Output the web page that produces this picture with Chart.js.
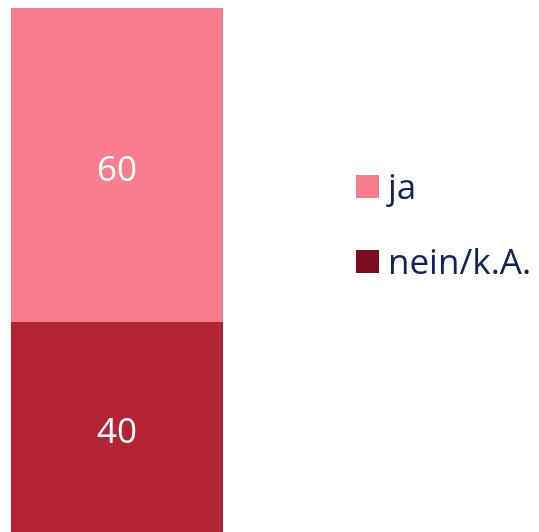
<!DOCTYPE html>
<html>
<head>
<meta charset="utf-8">
<script src="https://cdn.jsdelivr.net/npm/chart.js@4"></script>
<style>
  html, body { margin: 0; padding: 0; background: #ffffff; }
  #wrap { width: 539px; height: 532px; position: relative; }
</style>
</head>
<body>
<div id="wrap"><canvas id="c" width="539" height="532"></canvas></div>
<script>
const categories = [""];
const seriesNames = ["nein/k.A.", "ja"];
const neinValues = [40];
const jaValues = [60];
const barColors = ["#B22434", "#F87E8F"];
const legendColors = ["#7D0A1E", "#F87E8F"];
const legendOrder = ["ja", "nein/k.A."];
const textColor = "#14215A";
const fontFamily = "'Open Sans', 'Noto Sans', sans-serif";

const valueLabels = {
  id: 'valueLabels',
  afterDatasetsDraw(chart) {
    const ctx = chart.ctx;
    ctx.save();
    ctx.fillStyle = '#ffffff';
    ctx.font = `35px ${fontFamily}`;
    ctx.textAlign = 'center';
    ctx.textBaseline = 'middle';
    chart.data.datasets.forEach((ds, i) => {
      const meta = chart.getDatasetMeta(i);
      meta.data.forEach((el, j) => {
        const yTop = el.y, yBot = el.base;
        const bottom = Math.min(yBot, chart.chartArea.bottom);
        ctx.fillText(String(ds.data[j]), el.x, (yTop + bottom) / 2 + 6);
      });
    });
    ctx.restore();
  }
};

const customLegend = {
  id: 'customLegend',
  afterDraw(chart) {
    const ctx = chart.ctx;
    ctx.save();
    ctx.font = `35px ${fontFamily}`;
    ctx.textBaseline = 'middle';
    ctx.textAlign = 'left';
    const x0 = 356, box = 23, startY = 186.5, step = 75;
    legendOrder.forEach((name, k) => {
      const idx = chart.data.datasets.findIndex(d => d.label === name);
      const cy = startY + k * step;
      ctx.fillStyle = legendColors[idx];
      ctx.fillRect(x0, cy - box / 2, box, box);
      ctx.fillStyle = textColor;
      ctx.fillText(name, x0 + box + 9, cy + 3);
    });
    ctx.restore();
  }
};

new Chart(document.getElementById('c'), {
  type: 'bar',
  data: {
    labels: categories,
    datasets: [
      { label: seriesNames[0], data: neinValues, backgroundColor: barColors[0], borderWidth: 0 },
      { label: seriesNames[1], data: jaValues, backgroundColor: barColors[1], borderWidth: 0 }
    ]
  },
  options: {
    responsive: false,
    animation: false,
    layout: { padding: { left: 11, right: 316, top: 8, bottom: 0 } },
    plugins: { legend: { display: false }, tooltip: { enabled: false } },
    scales: {
      x: { stacked: true, display: false, categoryPercentage: 1, barPercentage: 1 },
      y: { stacked: true, display: false, min: 0, max: 100 }
    },
    datasets: { bar: { categoryPercentage: 1, barPercentage: 1 } }
  },
  plugins: [valueLabels, customLegend]
});
</script>
</body>
</html>
